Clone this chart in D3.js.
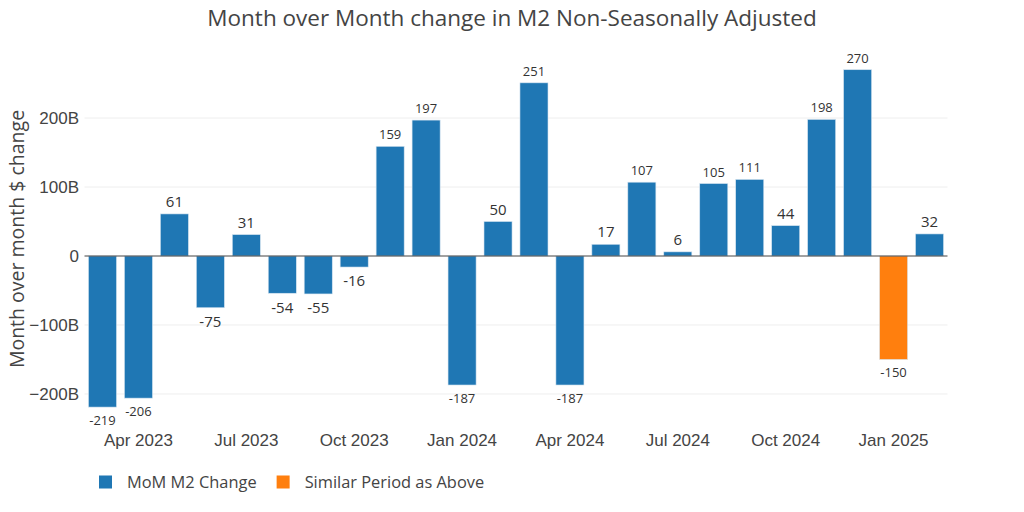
<!DOCTYPE html>
<html>
<head>
<meta charset="utf-8">
<script src="https://cdn.jsdelivr.net/npm/d3@7"></script>
<style>
  html, body { margin: 0; padding: 0; background: #fff; }
  svg { display: block; font-family: "Open Sans", "Noto Sans", sans-serif; }
</style>
</head>
<body>
<svg id="chart" width="1024" height="512"></svg>
<script>
const months = ["2023-03","2023-04","2023-05","2023-06","2023-07","2023-08","2023-09","2023-10","2023-11","2023-12",
  "2024-01","2024-02","2024-03","2024-04","2024-05","2024-06","2024-07","2024-08","2024-09","2024-10","2024-11","2024-12",
  "2025-01","2025-02"];
const values = [-219,-206,61,-75,31,-54,-55,-16,159,197,-187,50,251,-187,17,107,6,105,111,44,198,270,-150,32];
const highlighted = ["2025-01"];
const yTicks = [-200,-100,0,100,200];
const xTickMonths = ["2023-04","2023-07","2023-10","2024-01","2024-04","2024-07","2024-10","2025-01"];
const seriesNames = ["MoM M2 Change","Similar Period as Above"];
const colors = ["#1f77b4","#ff7f0e"];
const title = "Month over Month change in M2 Non-Seasonally Adjusted";
const yTitle = "Month over month $ change";

const svg = d3.select("#chart");
const plot = {left: 84.5, right: 947.5, top: 62, bottom: 428};

const parse = d3.timeParse("%Y-%m");
const fmtTick = d3.timeFormat("%b %Y");

const x = d3.scaleBand().domain(months).range([plot.left, plot.right]).paddingInner(0.22).paddingOuter(0.11);
const y = d3.scaleLinear().domain([-249.3, 281.2]).range([plot.bottom, plot.top]);

// gridlines
svg.append("g").selectAll("line").data(yTicks.filter(d => d !== 0)).join("line")
  .attr("x1", plot.left).attr("x2", plot.right)
  .attr("y1", d => y(d)).attr("y2", d => y(d))
  .attr("stroke", "#eeeeee").attr("stroke-width", 1);

// y axis
const yAxis = d3.axisLeft(y).tickValues(yTicks).tickSize(0).tickPadding(5)
  .tickFormat(d => d === 0 ? "0" : (d < 0 ? "\u2212" + Math.abs(d) : d) + "B");
const gy = svg.append("g").attr("transform", `translate(${plot.left},0)`).call(yAxis);
gy.select(".domain").remove();
gy.selectAll("text").attr("fill", "#444").style("font-size", "17px").attr("dx", "-0.5");

// x axis
const xAxis = d3.axisBottom(x).tickValues(xTickMonths).tickSize(0).tickPadding(6)
  .tickFormat(d => fmtTick(parse(d)));
const gx = svg.append("g").attr("transform", `translate(0,${plot.bottom})`).call(xAxis);
gx.select(".domain").remove();
gx.selectAll("text").attr("fill", "#444").style("font-size", "17px");

// bars
svg.append("g").selectAll("rect").data(months).join("rect")
  .attr("x", d => x(d))
  .attr("width", x.bandwidth())
  .attr("y", (d, i) => y(Math.max(0, values[i])))
  .attr("height", (d, i) => Math.abs(y(values[i]) - y(0)))
  .attr("fill", d => highlighted.includes(d) ? colors[1] : colors[0])
  .attr("stroke", "#d6e4f0").attr("stroke-width", 0.6);

// zero line
svg.append("line").attr("x1", plot.left).attr("x2", plot.right)
  .attr("y1", y(0)).attr("y2", y(0)).attr("stroke", "#444").attr("stroke-width", 1);

// value labels
const lg = svg.append("g");
months.forEach((m, i) => {
  const v = values[i];
  const t = lg.append("text")
    .attr("x", x(m) + x.bandwidth() / 2)
    .attr("text-anchor", "middle")
    .attr("fill", "#333")
    .style("font-size", "15px")
    .text(String(v));
  const w = t.node().getComputedTextLength();
  if (w > 24) { t.style("font-size", "13px"); }
  if (v >= 0) {
    t.attr("y", y(v) - 7);
  } else {
    t.attr("y", y(v) + 8).attr("dy", "0.75em");
  }
});

// title
svg.append("text").attr("x", 512).attr("y", 26).attr("text-anchor", "middle")
  .attr("fill", "#444").style("font-size", "22.5px").text(title);

// y title
svg.append("text").attr("transform", `translate(24,${(plot.top + plot.bottom) / 2 - 6}) rotate(-90)`)
  .attr("text-anchor", "middle").attr("fill", "#444").style("font-size", "19.5px").text(yTitle);

// legend
const legend = svg.append("g").attr("transform", "translate(99,482)");
let lx = 0;
seriesNames.forEach((name, i) => {
  const g = legend.append("g").attr("transform", `translate(${lx},0)`);
  g.append("rect").attr("x", 0).attr("y", -6.5).attr("width", 13).attr("height", 13).attr("fill", colors[i]);
  const t = g.append("text").attr("x", 28).attr("y", 0).attr("dy", "0.35em")
    .attr("fill", "#444").style("font-size", "16.4px").text(name);
  lx += 28 + t.node().getComputedTextLength() + 20;
});
</script>
</body>
</html>
